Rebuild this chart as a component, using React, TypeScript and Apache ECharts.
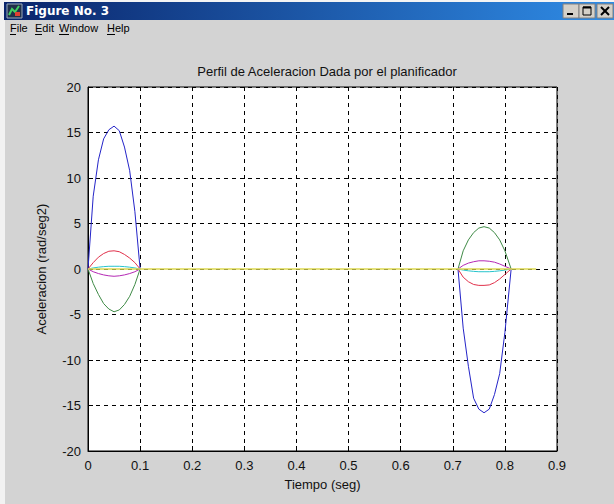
import React, { useEffect, useRef } from "react";
import * as echarts from "echarts";

const chartTitle = "Perfil de Aceleracion Dada por el planificador";
const xName = "Tiempo (seg)";
const yName = "Aceleracion (rad/seg2)";
const windowTitle = "Figure No. 3";
const menuItems = ["File", "Edit", "Window", "Help"];

// time samples of the two acceleration pulses
const t1 = [0, 0.01, 0.02, 0.03, 0.04, 0.05, 0.06, 0.07, 0.08, 0.09, 0.1];
const t2 = [0.71, 0.72, 0.73, 0.74, 0.75, 0.76, 0.77, 0.78, 0.79, 0.8, 0.812];

const blue1 = [0, 8.0, 12.0, 14.3, 15.3, 15.7, 15.2, 13.4, 10.8, 6.3, 0];
const blue2 = [0, -6.5, -10.7, -14.2, -15.4, -15.8, -15.4, -13.8, -11.5, -7.0, 0];
const green1 = [0, -1.6, -2.8, -3.8, -4.4, -4.7, -4.5, -3.9, -3.0, -1.7, 0];
const green2 = [0, 2.0, 3.2, 4.0, 4.5, 4.65, 4.5, 4.0, 3.2, 2.0, 0];
const red1 = [0, 0.7, 1.3, 1.7, 1.95, 2.0, 1.9, 1.6, 1.2, 0.7, 0];
const red2 = [0, -0.9, -1.4, -1.7, -1.8, -1.8, -1.75, -1.5, -1.1, -0.6, 0];
const cyan1 = [0, 0.12, 0.2, 0.26, 0.3, 0.3, 0.3, 0.26, 0.2, 0.12, 0];
const cyan2 = [0, -0.12, -0.2, -0.26, -0.3, -0.3, -0.3, -0.26, -0.2, -0.12, 0];
const magenta1 = [0, -0.3, -0.5, -0.65, -0.75, -0.8, -0.75, -0.65, -0.5, -0.3, 0];
const magenta2 = [0, 0.4, 0.65, 0.8, 0.9, 0.9, 0.85, 0.75, 0.55, 0.3, 0];
const yellowT = [0, 0.86];
const yellowV = [0, 0];

const seriesDefs = [
  { name: "q1", color: "#2424c8", a: blue1, b: blue2 },
  { name: "q2", color: "#3f8a46", a: green1, b: green2 },
  { name: "q3", color: "#e0304a", a: red1, b: red2 },
  { name: "q4", color: "#28c4cc", a: cyan1, b: cyan2 },
  { name: "q5", color: "#b428b4", a: magenta1, b: magenta2 },
];

function buildData(a: number[], b: number[]) {
  return [
    ...t1.map((t, i) => [t, a[i]]),
    [t1[t1.length - 1], "-"],
    ...t2.map((t, i) => [t, b[i]]),
  ];
}

const FONT = "Liberation Sans";

export default function App() {
  const ref = useRef<HTMLDivElement>(null);
  useEffect(() => {
    if (!ref.current) return;
    const chart = echarts.init(ref.current, undefined, { renderer: "svg" });
    const series: any[] = seriesDefs.map((s) => ({
      name: s.name,
      type: "line",
      data: buildData(s.a, s.b),
      showSymbol: false,
      symbol: "none",
      connectNulls: false,
      lineStyle: { color: s.color, width: 1 },
      itemStyle: { color: s.color },
    }));
    series.push({
      name: "q6",
      type: "line",
      data: yellowT.map((t, i) => [t, yellowV[i]]),
      showSymbol: false,
      symbol: "none",
      lineStyle: { color: "#dcd850", width: 1.4 },
    });

    const menuX = [10, 35, 59, 107];
    const underlineW = [6, 7, 10, 8];
    const graphic: any[] = [
      { type: "rect", shape: { x: 0, y: 0, width: 614, height: 2 }, style: { fill: "#f4f4f4" } },
      { type: "rect", shape: { x: 0, y: 0, width: 5, height: 504 }, style: { fill: "#f2f2f2" } },
      {
        type: "rect",
        shape: { x: 4, y: 2, width: 610, height: 18 },
        style: {
          fill: new echarts.graphic.LinearGradient(0, 0, 1, 0, [
            { offset: 0, color: "#0a246a" },
            { offset: 1, color: "#2f8ce6" },
          ]),
        },
      },
      // window icon
      { type: "rect", shape: { x: 7, y: 4, width: 15, height: 14 }, style: { fill: "#20304a", stroke: "#9ab", lineWidth: 1 } },
      { type: "polyline", shape: { points: [[9, 15], [12, 9], [15, 12], [19, 6]] }, style: { stroke: "#40d060", lineWidth: 2, fill: null } },
      { type: "rect", shape: { x: 15, y: 12, width: 5, height: 4 }, style: { fill: "#e04030" } },
      {
        type: "text",
        x: 26,
        y: 11,
        style: { text: windowTitle, fill: "#ffffff", font: `bold 12px "DejaVu Sans"`, verticalAlign: "middle" },
      },
      // buttons
      ...[563, 579, 597].map((bx) => ({
        type: "rect",
        shape: { x: bx, y: 4, width: 16, height: 14 },
        style: { fill: "#d4d0c8", stroke: "#808080", lineWidth: 1 },
      })),
      { type: "rect", shape: { x: 567, y: 13, width: 6, height: 2 }, style: { fill: "#000" } },
      { type: "rect", shape: { x: 583, y: 7, width: 8, height: 8 }, style: { fill: "none", stroke: "#000", lineWidth: 1 } },
      { type: "line", shape: { x1: 583, y1: 7.5, x2: 591, y2: 7.5 }, style: { stroke: "#000", lineWidth: 2 } },
      { type: "line", shape: { x1: 601, y1: 7, x2: 609, y2: 15 }, style: { stroke: "#000", lineWidth: 2 } },
      { type: "line", shape: { x1: 609, y1: 7, x2: 601, y2: 15 }, style: { stroke: "#000", lineWidth: 2 } },
      // menu
      ...menuItems.map((m, i) => ({
        type: "text",
        x: menuX[i],
        y: 28,
        style: { text: m, fill: "#000", font: `11px "${FONT}"`, verticalAlign: "middle" },
      })),
      ...menuItems.map((m, i) => ({
        type: "line",
        shape: { x1: menuX[i], y1: 34.5, x2: menuX[i] + underlineW[i], y2: 34.5 },
        style: { stroke: "#000", lineWidth: 1 },
      })),
    ];

    chart.setOption({
      animation: false,
      backgroundColor: "#d3d3d3",
      title: {
        text: chartTitle,
        left: 322,
        textAlign: "center",
        top: 60,
        textStyle: { fontFamily: FONT, fontSize: 13, fontWeight: "normal", color: "#111" },
      },
      grid: {
        left: 88,
        top: 87,
        width: 469,
        height: 364,
        show: true,
        backgroundColor: "#ffffff",
        borderColor: "#000",
        borderWidth: 1,
      },
      xAxis: {
        type: "value",
        min: 0,
        max: 0.9,
        interval: 0.1,
        name: xName,
        nameLocation: "middle",
        nameGap: 27,
        nameTextStyle: { fontFamily: FONT, fontSize: 13, color: "#111" },
        axisLine: { onZero: false, lineStyle: { color: "#000" } },
        axisTick: { inside: true, length: 5, lineStyle: { color: "#000" } },
        axisLabel: {
          fontFamily: FONT,
          fontSize: 13,
          color: "#111",
          margin: 8,
          formatter: (v: number) => (Math.round(v * 10) / 10).toString(),
        },
        splitLine: { show: true, lineStyle: { color: "#000", type: [4, 4], width: 1 } },
      },
      yAxis: {
        type: "value",
        min: -20,
        max: 20,
        interval: 5,
        name: yName,
        nameLocation: "middle",
        nameGap: 40,
        nameTextStyle: { fontFamily: FONT, fontSize: 13, color: "#111" },
        axisLine: { show: true, lineStyle: { color: "#000" } },
        axisTick: { show: true, inside: true, length: 5, lineStyle: { color: "#000" } },
        axisLabel: { fontFamily: FONT, fontSize: 13, color: "#111", margin: 7 },
        splitLine: { show: true, lineStyle: { color: "#000", type: [4, 4], width: 1 } },
      },
      series,
      graphic,
    });
    return () => chart.dispose();
  }, []);
  return (
    <div
      ref={ref}
      style={{ position: "fixed", left: 0, top: 0, width: 614, height: 504 }}
    />
  );
}
